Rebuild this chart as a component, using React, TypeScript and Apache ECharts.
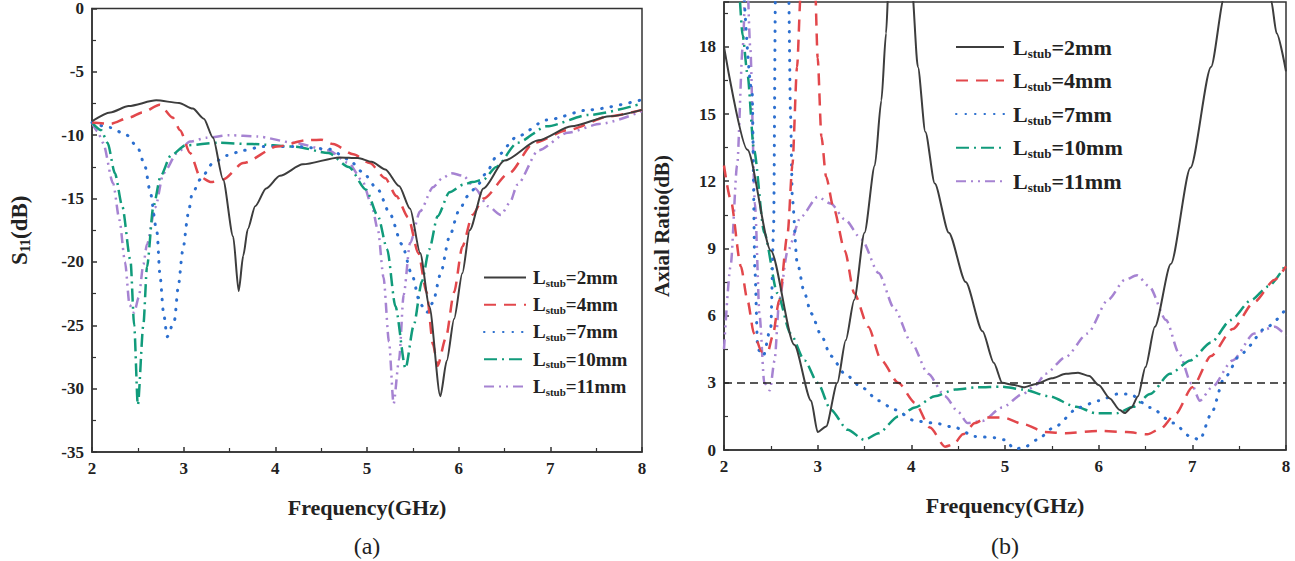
import React, { useEffect, useRef } from "react";
import * as echarts from "echarts";

// ---------- data ----------
const stubNames = ["2mm", "4mm", "7mm", "10mm", "11mm"];

// (a) S11 (dB) vs frequency (GHz)
const s11_2mm = [[2,-8.9],[2.2,-8.2],[2.4,-7.7],[2.7,-7.25],[2.95,-7.45],[3.1,-7.9],[3.22,-8.7],[3.32,-10.2],[3.43,-13.5],[3.54,-18],[3.6,-22.3],[3.65,-19.5],[3.7,-17.4],[3.78,-15.6],[3.9,-14.2],[4.05,-13.2],[4.3,-12.3],[4.7,-11.75],[4.9,-11.8],[5.05,-12.1],[5.2,-12.7],[5.35,-14.0],[5.47,-15.8],[5.58,-19.3],[5.68,-23.5],[5.8,-30.6],[5.87,-27.8],[5.95,-24.5],[6.04,-20.9],[6.12,-17.5],[6.27,-14.2],[6.5,-12.0],[6.87,-10.4],[7.23,-9.3],[7.65,-8.5],[8,-8.0]];
const s11_4mm = [[2,-9.0],[2.2,-9.1],[2.41,-8.6],[2.55,-8.2],[2.74,-7.6],[2.88,-8.6],[2.96,-9.6],[3.07,-11.4],[3.18,-13.3],[3.3,-13.7],[3.43,-13.5],[3.65,-12.2],[4.02,-10.9],[4.34,-10.4],[4.5,-10.35],[4.63,-10.7],[4.85,-11.5],[5.03,-12.2],[5.2,-13.4],[5.32,-14.8],[5.45,-16.5],[5.56,-19.3],[5.65,-22.4],[5.72,-26.5],[5.77,-28.2],[5.86,-26],[5.95,-22.4],[6.04,-18.8],[6.15,-16.3],[6.27,-15.0],[6.55,-13.0],[6.82,-10.6],[7.19,-9.6],[7.65,-8.5],[8,-8.0]];
const s11_7mm = [[2,-9.0],[2.2,-9.4],[2.38,-10.0],[2.5,-11],[2.58,-12.5],[2.63,-14.3],[2.71,-17.7],[2.74,-20.9],[2.78,-24],[2.82,-25.9],[2.9,-24.6],[2.94,-22],[2.99,-19.1],[3.05,-16.2],[3.09,-14.7],[3.18,-13.5],[3.32,-12.2],[3.47,-11.6],[3.65,-11.2],[3.86,-10.9],[4.23,-10.9],[4.59,-11.1],[4.8,-11.9],[4.95,-12.9],[5.12,-14.3],[5.25,-16.2],[5.38,-18.6],[5.49,-21],[5.58,-23.3],[5.65,-24],[5.72,-23.2],[5.8,-21],[5.9,-18],[6.0,-16],[6.1,-14.8],[6.2,-14.0],[6.3,-13.0],[6.41,-11.7],[6.64,-10.1],[6.96,-8.8],[7.42,-8.0],[8,-7.2]];
const s11_10mm = [[2,-9.0],[2.1,-9.6],[2.17,-10.6],[2.25,-13],[2.33,-15.6],[2.42,-19.9],[2.46,-25],[2.5,-31.3],[2.56,-25],[2.6,-20.4],[2.67,-15.6],[2.75,-13.2],[2.86,-11.6],[3.02,-10.8],[3.38,-10.6],[3.75,-10.7],[4.21,-10.9],[4.58,-11.4],[4.8,-12.5],[4.99,-14.3],[5.12,-16.4],[5.22,-19.0],[5.31,-23.5],[5.42,-28.4],[5.51,-25],[5.6,-21.5],[5.68,-19],[5.77,-16.4],[5.9,-14.5],[6.05,-13.9],[6.15,-13.7],[6.27,-13.5],[6.41,-12.5],[6.64,-10.6],[6.96,-9.3],[7.42,-8.4],[8,-7.5]];
const s11_11mm = [[2,-9.0],[2.06,-9.7],[2.12,-10.6],[2.23,-13.8],[2.3,-16.7],[2.36,-20.0],[2.41,-23.4],[2.46,-24],[2.51,-22.8],[2.56,-20.2],[2.6,-18.6],[2.69,-15.7],[2.78,-13],[2.93,-11.4],[3.07,-10.5],[3.25,-10.2],[3.5,-10.0],[3.8,-10.1],[4.21,-10.6],[4.58,-11.2],[4.8,-12.2],[4.95,-13.6],[5.05,-15.5],[5.12,-17.5],[5.18,-21.2],[5.24,-26.3],[5.29,-31.2],[5.35,-27.7],[5.4,-22.6],[5.47,-18.5],[5.58,-16.0],[5.72,-14.1],[5.82,-13.4],[5.92,-13.0],[6.05,-13.2],[6.18,-14.2],[6.32,-15.6],[6.46,-16.3],[6.56,-15.3],[6.64,-13.9],[6.87,-11.2],[7.19,-9.8],[7.55,-9.1],[8,-8.1]];

// (b) Axial ratio (dB) vs frequency (GHz)
const ar_2mm = [[2,18],[2.25,13.4],[2.5,8.9],[2.75,4.7],[2.93,2.2],[3.0,0.8],[3.09,1.05],[3.21,3.0],[3.3,4.9],[3.39,6.7],[3.5,9.7],[3.61,12.7],[3.68,15.6],[3.73,18.6],[3.76,21],[3.87,32],[4.0,21],[4.07,17.1],[4.15,14.2],[4.25,11.9],[4.4,9.7],[4.58,7.5],[4.76,5.3],[4.88,3.9],[4.97,3.0],[5.1,2.9],[5.2,2.8],[5.33,2.95],[5.5,3.2],[5.65,3.4],[5.78,3.45],[5.9,3.3],[6.0,2.9],[6.12,2.3],[6.22,1.8],[6.28,1.65],[6.35,1.9],[6.42,2.4],[6.5,3.7],[6.6,5.5],[6.77,8.3],[6.98,12.6],[7.2,17.1],[7.34,20.2],[7.6,26],[7.84,20.1],[7.9,18.6],[8,16.9]];
const ar_4mm = [[2,12.7],[2.07,11.2],[2.18,8.2],[2.25,6.7],[2.32,5.2],[2.4,4.4],[2.47,4.4],[2.52,5.1],[2.59,6.7],[2.68,9.7],[2.73,12.7],[2.78,17.1],[2.82,20.5],[2.9,28],[2.97,21],[3.0,17.5],[3.04,14],[3.09,12.2],[3.17,10.8],[3.29,8.9],[3.39,7.0],[3.54,5.5],[3.68,4.0],[3.86,3.0],[4.04,2.1],[4.2,1.0],[4.36,0.15],[4.45,0.25],[4.55,0.7],[4.68,1.2],[4.8,1.45],[4.98,1.45],[5.2,1.15],[5.43,0.8],[5.65,0.75],[6.0,0.85],[6.3,0.8],[6.52,0.7],[6.66,0.95],[6.82,1.6],[7.0,2.8],[7.2,4.2],[7.43,5.4],[7.66,6.6],[7.88,7.6],[8,8.2]];
const ar_7mm = [[2,40],[2.3,16],[2.33,8],[2.36,4.5],[2.42,4.2],[2.5,5.5],[2.53,10],[2.55,20.5],[2.62,35],[2.69,20.5],[2.71,15],[2.73,11.2],[2.78,8.4],[2.86,7],[2.93,6.1],[3.04,5.1],[3.14,4.2],[3.29,3.4],[3.47,2.8],[3.65,2.2],[3.82,1.8],[4.04,1.3],[4.25,1.2],[4.47,1.0],[4.68,0.6],[4.9,0.55],[5.0,0.45],[5.1,0.05],[5.2,0.1],[5.34,0.45],[5.52,1.0],[5.79,1.9],[6.0,2.2],[6.2,2.5],[6.33,2.5],[6.55,1.9],[6.8,1.2],[6.98,0.6],[7.08,0.45],[7.2,1.6],[7.34,3.2],[7.52,4.3],[7.8,5.5],[8,6.3]];
const ar_10mm = [[2,30],[2.15,21],[2.2,18.5],[2.25,16.8],[2.32,13.4],[2.43,9.7],[2.57,7.0],[2.71,5.2],[2.86,4.0],[3.0,3.0],[3.14,1.8],[3.32,0.9],[3.5,0.45],[3.65,0.75],[3.86,1.5],[4.04,1.9],[4.25,2.4],[4.47,2.7],[4.7,2.8],[4.97,2.83],[5.19,2.7],[5.47,2.4],[5.76,1.93],[5.97,1.64],[6.19,1.64],[6.37,1.93],[6.55,2.5],[6.76,3.4],[6.98,4.0],[7.2,4.8],[7.41,5.8],[7.63,6.7],[7.81,7.3],[8,8.3]];
const ar_11mm = [[2,4.5],[2.07,8.2],[2.14,12.7],[2.2,18],[2.24,22],[2.28,18],[2.33,11],[2.38,6],[2.43,3.0],[2.49,2.67],[2.54,4],[2.59,6.7],[2.68,8.9],[2.82,10.4],[3.0,11.3],[3.14,11.0],[3.29,10.3],[3.47,9.4],[3.65,7.9],[3.82,6.3],[4.0,4.8],[4.18,3.4],[4.36,2.4],[4.5,1.7],[4.6,1.2],[4.76,1.3],[4.97,1.9],[5.19,2.5],[5.33,2.9],[5.43,3.4],[5.65,4.16],[5.88,5.2],[6.1,6.7],[6.28,7.6],[6.41,7.8],[6.54,7.3],[6.72,5.8],[6.86,4.3],[6.99,2.97],[7.08,2.2],[7.21,2.8],[7.43,4.0],[7.66,5.2],[7.88,5.5],[8,5.1]];

const s11Series = [s11_2mm, s11_4mm, s11_7mm, s11_10mm, s11_11mm];
const arSeries = [ar_2mm, ar_4mm, ar_7mm, ar_10mm, ar_11mm];
const arThreshold = 3;

// ---------- styles ----------
const FONT = '"Liberation Serif", "Times New Roman", serif';
const colors = ["#3d3d3d", "#e2474b", "#2c6fcf", "#119b7b", "#a683d2"];
const dashes: any[] = ["solid", [12, 8], [0.5, 9], [13, 5, 2, 5], [10, 5, 2, 5, 2, 5]];
const widths = [2, 2.5, 3, 2.5, 2.5];

function lineSeries(data: number[][], i: number, axisIndex: number) {
  return {
    name: stubNames[i],
    type: "line",
    xAxisIndex: axisIndex,
    yAxisIndex: axisIndex,
    data,
    symbol: "none",
    smooth: 0.25,
    smoothMonotone: "x",
    clip: true,
    z: 5 - i,
    lineStyle: { color: colors[i], width: widths[i], type: dashes[i], cap: i === 2 ? "round" : "butt" },
    itemStyle: { color: colors[i] },
  };
}

function legendCfg(left: number, top: number, fs: number, sub: number, iw: number, gap: number, pad: number) {
  return {
    orient: "vertical",
    left,
    top,
    data: stubNames,
    itemWidth: iw,
    itemHeight: 12,
    itemGap: gap,
    selectedMode: false,
    itemStyle: { opacity: 0 },
    formatter: (n: string) => `{a|L}{s|stub}{b|=${n}}`,
    textStyle: {
      rich: {
        a: { fontFamily: FONT, fontSize: fs, fontWeight: "bold", color: "#222", padding: [0, 0, 0, pad], lineHeight: fs + 4 },
        s: { fontFamily: FONT, fontSize: sub, fontWeight: "bold", color: "#222", padding: [fs * 0.55, 0, 0, 0] },
        b: { fontFamily: FONT, fontSize: fs, fontWeight: "bold", color: "#222", lineHeight: fs + 4 },
      },
    },
  };
}

const axisCommon = {
  axisLine: { show: true, onZero: false, lineStyle: { color: "#333", width: 1.5 } },
  axisTick: { show: true, inside: true, length: 5, lineStyle: { color: "#333", width: 1.5 } },
  minorTick: { show: true, splitNumber: 2, length: 4, lineStyle: { color: "#333", width: 1.2 } },
  splitLine: { show: false },
  axisLabel: { fontFamily: FONT, fontWeight: "bold", fontSize: 17, color: "#222", margin: 8 },
};

export default function App() {
  const ref = useRef<HTMLDivElement>(null);
  useEffect(() => {
    if (!ref.current) return;
    const chart = echarts.init(ref.current, undefined, { renderer: "svg" });
    const xName = {
      name: "Frequency(GHz)",
      nameLocation: "middle",
      nameGap: 44,
      nameTextStyle: { fontFamily: FONT, fontWeight: "bold", fontSize: 22, color: "#222" },
    };
    const series: any[] = [];
    s11Series.forEach((d, i) => series.push(lineSeries(d, i, 0)));
    arSeries.forEach((d, i) => series.push(lineSeries(d, i, 1)));
    series.push({
      type: "line",
      name: "AR3",
      xAxisIndex: 1,
      yAxisIndex: 1,
      data: [],
      symbol: "none",
      markLine: {
        silent: true,
        symbol: ["none", "none"],
        label: { show: false },
        lineStyle: { color: "#222", type: [8, 5], width: 1.5 },
        data: [{ yAxis: arThreshold }],
      },
    });
    chart.setOption({
      animation: false,
      backgroundColor: "#ffffff",
      grid: [
        { left: 92, top: 8, width: 550, height: 444, show: true, borderColor: "#333", borderWidth: 1.5 },
        { left: 724, top: 2, width: 562, height: 448, show: true, borderColor: "#333", borderWidth: 1.5 },
      ],
      xAxis: [
        { type: "value", gridIndex: 0, min: 2, max: 8, interval: 1, ...axisCommon, ...xName },
        { type: "value", gridIndex: 1, min: 2, max: 8, interval: 1, ...axisCommon, ...xName },
      ],
      yAxis: [
        {
          type: "value", gridIndex: 0, min: -35, max: 0, interval: 5, ...axisCommon,
          name: "{a|S}{s|11}{a|(dB)}",
          nameLocation: "middle",
          nameGap: 60,
          nameRotate: 90,
          nameTextStyle: {
            rich: {
              a: { fontFamily: FONT, fontWeight: "bold", fontSize: 23, color: "#222" },
              s: { fontFamily: FONT, fontWeight: "bold", fontSize: 14, color: "#222", padding: [12, 0, 0, 0] },
            },
          },
        },
        {
          type: "value", gridIndex: 1, min: 0, max: 20, interval: 3, ...axisCommon,
          axisLabel: { ...axisCommon.axisLabel, showMaxLabel: false },
          name: "Axial Ratio(dB)",
          nameLocation: "middle",
          nameGap: 52,
          nameRotate: 90,
          nameTextStyle: { fontFamily: FONT, fontWeight: "bold", fontSize: 21, color: "#222" },
        },
      ],
      legend: [
        legendCfg(478, 263, 19, 11, 42, 7, 2),
        legendCfg(950, 31, 22, 13, 48, 10, 4),
      ],
      graphic: [
        { type: "text", x: 367, y: 546, style: { text: "(a)", fontFamily: FONT, fontSize: 24, fill: "#222", align: "center", verticalAlign: "middle" } },
        { type: "text", x: 1005, y: 546, style: { text: "(b)", fontFamily: FONT, fontSize: 24, fill: "#222", align: "center", verticalAlign: "middle" } },
      ],
      series,
    });
    return () => chart.dispose();
  }, []);
  return <div ref={ref} style={{ position: "fixed", left: 0, top: 0, width: 1295, height: 561, background: "#fff" }} />;
}
